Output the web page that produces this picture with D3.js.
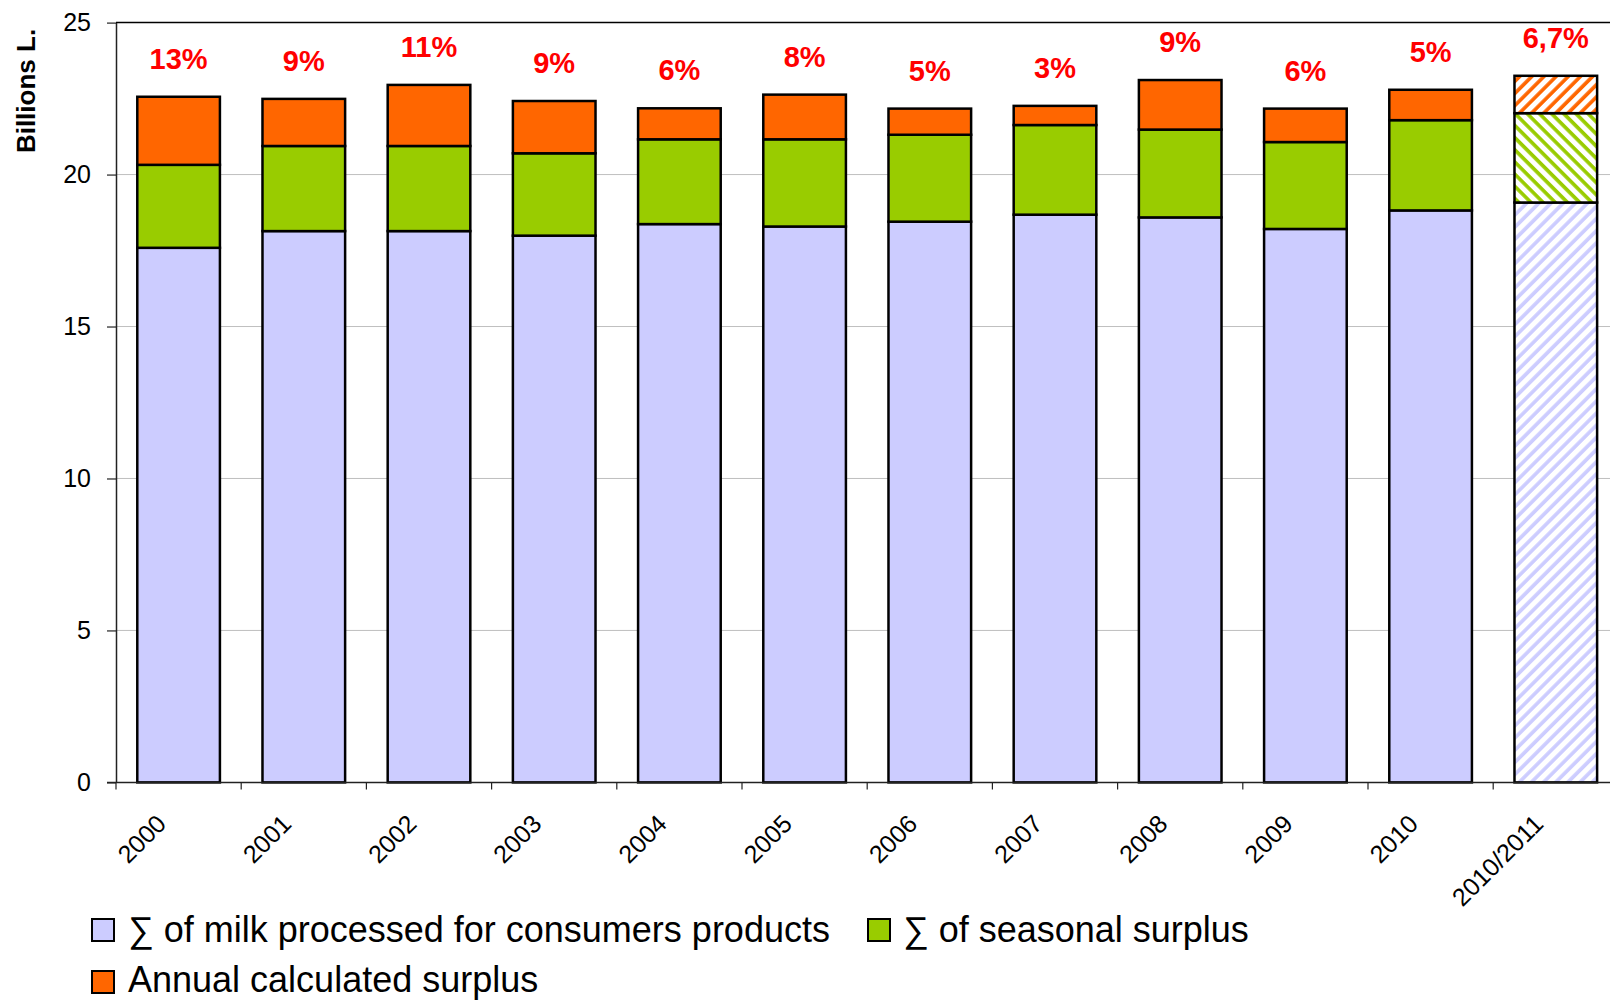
<!DOCTYPE html>
<html>
<head>
<meta charset="utf-8">
<script src="https://cdn.jsdelivr.net/npm/d3@7"></script>
<style>
  body { margin: 0; background: #fff; }
  svg { display: block; font-family: "Liberation Sans", Arial, sans-serif; }
</style>
</head>
<body>
<div id="chart"></div>
<script>
// values (billions of litres)
let years = ["2000", "2001", "2002", "2003", "2004", "2005", "2006", "2007", "2008", "2009", "2010", "2010/2011"];
let processed = [17.59, 18.14, 18.14, 17.99, 18.37, 18.29, 18.45, 18.68, 18.59, 18.21, 18.82, 19.08];
let seasonal = [2.73, 2.80, 2.80, 2.71, 2.79, 2.87, 2.86, 2.95, 2.89, 2.86, 2.97, 2.94];
let annual = [2.24, 1.55, 2.01, 1.72, 1.02, 1.47, 0.86, 0.63, 1.63, 1.10, 1.00, 1.23];
let pct_labels = ["13%", "9%", "11%", "9%", "6%", "8%", "5%", "3%", "9%", "6%", "5%", "6,7%"];
let y_ticks = [0, 5, 10, 15, 20, 25];
let forecast = "2010/2011";

let series = [
    {key: "processed", name: "\u2211 of milk processed for consumers products", color: "#CCCCFF", dir: 45},
    {key: "seasonal", name: "\u2211 of seasonal surplus", color: "#99CC00", dir: -45},
    {key: "annual", name: "Annual calculated surplus", color: "#FF6600", dir: 45}
];

let rows = years.map(function(d, i){
    return {year: d, processed: processed[i], seasonal: seasonal[i], annual: annual[i], pct: pct_labels[i]};
});

let width = 1610, height = 1001;
let svg = d3.select("#chart").append("svg")
    .attr("width", width)
    .attr("height", height);

let x = d3.scaleBand().domain(years).range([116, 116 + 125.2 * years.length]).padding(0);
let y = d3.scaleLinear().domain([0, 25]).range([782.4, 22.6]);
let barW = x.bandwidth() * 0.66;

let stack = d3.stack().keys(series.map(s => s.key));
let stacked = stack(rows);

// hatch patterns for the forecast bar
let defs = svg.append("defs");
series.forEach(function(s){
    let p = defs.append("pattern")
        .attr("id", "hatch-" + s.key)
        .attr("patternUnits", "userSpaceOnUse")
        .attr("width", 8.6)
        .attr("height", 8.6)
        .attr("patternTransform", "rotate(" + s.dir + ")");
    p.append("rect").attr("width", 8.6).attr("height", 8.6).attr("fill", "#fff");
    p.append("line")
        .attr("x1", 2).attr("y1", 0).attr("x2", 2).attr("y2", 8.6)
        .attr("stroke", s.color)
        .attr("stroke-width", 3.6);
});

// gridlines
svg.append("g")
    .selectAll("line")
    .data(y_ticks.filter(t => t > 0 && t < 25))
    .join("line")
    .attr("x1", 116).attr("x2", width)
    .attr("y1", d => y(d)).attr("y2", d => y(d))
    .attr("stroke", "#bfbfbf")
    .attr("stroke-width", 1);

// top frame line
svg.append("line")
    .attr("x1", 116).attr("x2", width)
    .attr("y1", y(25)).attr("y2", y(25))
    .attr("stroke", "#000")
    .attr("stroke-width", 1.5);

// bars
let layers = svg.append("g")
    .selectAll("g")
    .data(stacked)
    .join("g");

layers.selectAll("rect")
    .data(d => d.map(v => Object.assign(v, {key: d.key})))
    .join("rect")
    .attr("x", d => x(d.data.year) + (x.bandwidth() - barW) / 2)
    .attr("y", d => y(d[1]))
    .attr("width", barW)
    .attr("height", d => y(d[0]) - y(d[1]))
    .attr("fill", function(d){
        let s = series.find(s => s.key == d.key);
        return d.data.year == forecast ? "url(#hatch-" + s.key + ")" : s.color;
    })
    .attr("stroke", "#000")
    .attr("stroke-width", 2.5);

// y axis
let yAxis = svg.append("g")
    .attr("transform", "translate(116,0)")
    .call(d3.axisLeft(y).tickValues(y_ticks).tickSizeInner(9).tickSizeOuter(0).tickPadding(16));
yAxis.select(".domain").attr("stroke", "#222").attr("stroke-width", 1.5);
yAxis.selectAll(".tick line").attr("stroke", "#222").attr("stroke-width", 1.2);
yAxis.selectAll(".tick text")
    .attr("font-size", 25)
    .attr("font-family", "Liberation Sans, Arial, sans-serif")
    .attr("fill", "#000");

// x axis line + ticks at category boundaries
svg.append("line")
    .attr("x1", 107).attr("x2", width)
    .attr("y1", y(0)).attr("y2", y(0))
    .attr("stroke", "#222")
    .attr("stroke-width", 1.5);

svg.append("g")
    .selectAll("line")
    .data(years)
    .join("line")
    .attr("x1", d => x(d)).attr("x2", d => x(d))
    .attr("y1", y(0)).attr("y2", y(0) + 7)
    .attr("stroke", "#222")
    .attr("stroke-width", 1.2);

svg.append("g")
    .selectAll("text")
    .data(years)
    .join("text")
    .attr("transform", d => "translate(" + (x(d) + x.bandwidth() / 2 - 11) + "," + (y(0) + 43) + ") rotate(-45)")
    .attr("text-anchor", "end")
    .attr("font-size", 25)
    .text(d => d);

// percentage labels
svg.append("g")
    .selectAll("text")
    .data(rows)
    .join("text")
    .attr("x", d => x(d.year) + x.bandwidth() / 2)
    .attr("y", d => y(d.processed + d.seasonal + d.annual) - 28)
    .attr("text-anchor", "middle")
    .attr("font-size", 29)
    .attr("font-weight", "bold")
    .attr("fill", "#FF0000")
    .text(d => d.pct);

// y axis title
svg.append("text")
    .attr("transform", "translate(26,91) rotate(-90)")
    .attr("text-anchor", "middle")
    .attr("dy", "0.35em")
    .attr("font-size", 26)
    .attr("font-weight", "bold")
    .text("Billions L.");

// legend
let legend_pos = [[92, 919, 128, 23], [868, 919, 903, 23], [92, 971, 128, 21]];
let legend = svg.append("g")
    .selectAll("g")
    .data(series)
    .join("g")
    .attr("transform", (d, i) => "translate(" + legend_pos[i][0] + "," + legend_pos[i][1] + ")");

legend.append("rect")
    .attr("width", 22).attr("height", 22)
    .attr("fill", d => d.color)
    .attr("stroke", "#000")
    .attr("stroke-width", 2);

legend.append("text")
    .attr("x", (d, i) => legend_pos[i][2] - legend_pos[i][0])
    .attr("y", (d, i) => legend_pos[i][3])
    .attr("font-size", 36)
    .text(d => d.name);
</script>
</body>
</html>
